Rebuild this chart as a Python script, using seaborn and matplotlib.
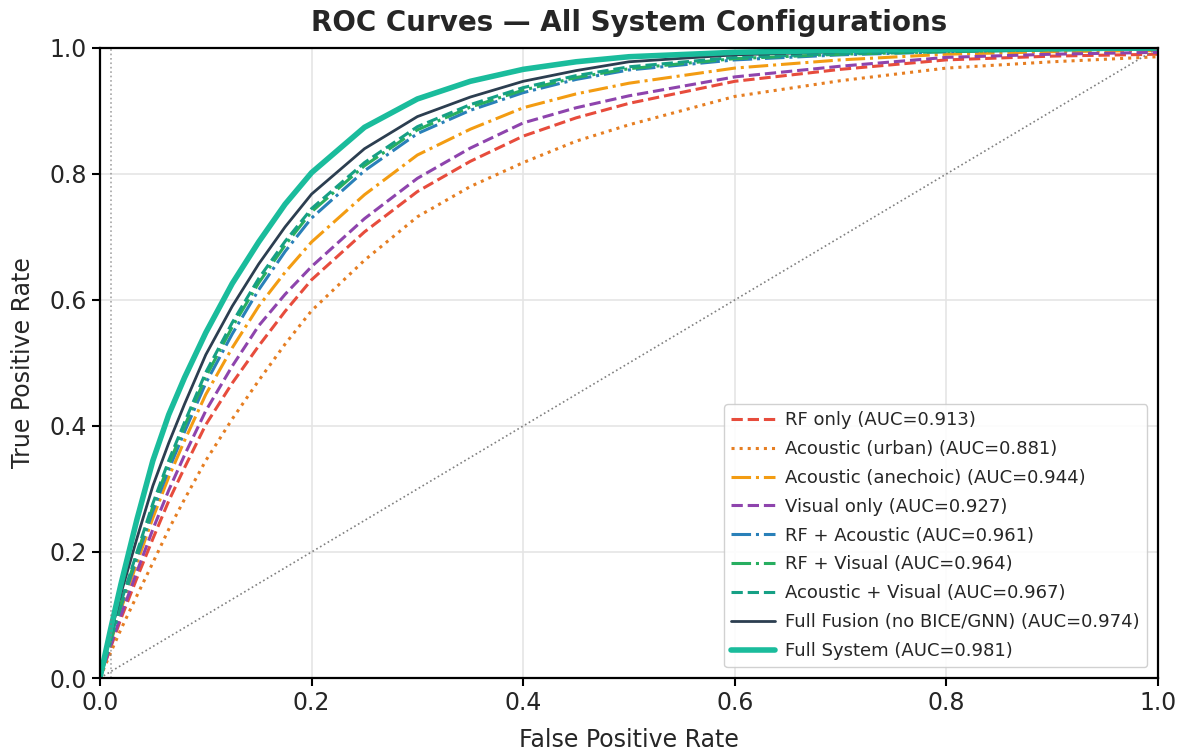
import numpy as np
import pandas as pd
import matplotlib
matplotlib.use('Agg')
import matplotlib.pyplot as plt
import seaborn as sns

# values
fpr = [0, 0.01, 0.02, 0.035, 0.05, 0.065, 0.08, 0.1, 0.125, 0.15, 0.175, 0.2,
       0.25, 0.3, 0.35, 0.4, 0.45, 0.5, 0.6, 0.7, 0.8, 0.9, 1.0]

tpr_rf = [0, 0.048, 0.095, 0.159, 0.221, 0.281, 0.334, 0.402, 0.468, 0.527, 0.582, 0.632,
          0.708, 0.772, 0.820, 0.860, 0.889, 0.912, 0.947, 0.966, 0.981, 0.987, 0.990]
tpr_urban = [0, 0.040, 0.078, 0.131, 0.183, 0.236, 0.284, 0.345, 0.411, 0.472, 0.530, 0.583,
             0.663, 0.732, 0.780, 0.818, 0.852, 0.878, 0.923, 0.948, 0.968, 0.978, 0.986]
tpr_anechoic = [0, 0.056, 0.110, 0.183, 0.254, 0.319, 0.377, 0.450, 0.524, 0.590, 0.644, 0.692,
                0.767, 0.830, 0.871, 0.905, 0.927, 0.944, 0.968, 0.981, 0.990, 0.994, 0.996]
tpr_visual = [0, 0.051, 0.100, 0.169, 0.236, 0.298, 0.354, 0.424, 0.495, 0.559, 0.609, 0.653,
              0.729, 0.793, 0.841, 0.881, 0.905, 0.924, 0.954, 0.971, 0.985, 0.990, 0.993]
tpr_rf_ac = [0, 0.058, 0.114, 0.191, 0.265, 0.331, 0.391, 0.468, 0.546, 0.616, 0.677, 0.730,
             0.805, 0.864, 0.901, 0.929, 0.950, 0.965, 0.981, 0.989, 0.994, 0.997, 0.998]
tpr_rf_vis = [0, 0.060, 0.118, 0.196, 0.272, 0.339, 0.400, 0.478, 0.557, 0.627, 0.687, 0.740,
              0.813, 0.870, 0.906, 0.933, 0.953, 0.967, 0.983, 0.990, 0.994, 0.997, 0.998]
tpr_ac_vis = [0, 0.062, 0.121, 0.200, 0.277, 0.345, 0.406, 0.485, 0.564, 0.634, 0.693, 0.745,
              0.818, 0.875, 0.910, 0.937, 0.956, 0.970, 0.985, 0.991, 0.995, 0.997, 0.998]
tpr_fusion = [0, 0.069, 0.135, 0.222, 0.305, 0.373, 0.435, 0.513, 0.590, 0.657, 0.716, 0.768,
              0.840, 0.891, 0.922, 0.947, 0.964, 0.978, 0.989, 0.994, 0.997, 0.998, 0.999]
tpr_full = [0, 0.077, 0.150, 0.252, 0.345, 0.418, 0.477, 0.548, 0.626, 0.692, 0.752, 0.802,
            0.874, 0.919, 0.947, 0.966, 0.978, 0.986, 0.993, 0.996, 0.998, 0.999, 1.0]

names = ['RF only', 'Acoustic (urban)', 'Acoustic (anechoic)', 'Visual only',
         'RF + Acoustic', 'RF + Visual', 'Acoustic + Visual',
         'Full Fusion (no BICE/GNN)', 'Full System']
aucs = [0.913, 0.881, 0.944, 0.927, 0.961, 0.964, 0.967, 0.974, 0.981]
curves = [tpr_rf, tpr_urban, tpr_anechoic, tpr_visual, tpr_rf_ac,
          tpr_rf_vis, tpr_ac_vis, tpr_fusion, tpr_full]

colors = ['#e74c3c', '#e67e22', '#f39c12', '#8e44ad', '#2980b9',
          '#27ae60', '#16a085', '#2c3e50', '#1abc9c']
styles = ['--', ':', '-.', '--', '-.', '-.', '--', '-', '-']
widths = [2.2, 2.2, 2.2, 2.2, 2.2, 2.2, 2.2, 2.0, 4.0]

sns.set_theme(style='ticks')
plt.rcParams['font.family'] = ['DejaVu Sans']

fig = plt.figure(figsize=(11.83, 7.51), dpi=100)
ax = fig.add_axes([0.0845, 0.0972, 0.8944, 0.8390])

for name, auc, tpr, c, ls, lw in zip(names, aucs, curves, colors, styles, widths):
    df = pd.DataFrame({'fpr': fpr, 'tpr': tpr})
    sns.lineplot(data=df, x='fpr', y='tpr', ax=ax, color=c, linestyle=ls,
                 linewidth=lw, label=f'{name} (AUC={auc:.3f})')

ax.plot([0, 1], [0, 1], color='gray', linestyle=':', linewidth=1.2)
ax.axvline(0.01, color='gray', linestyle=':', linewidth=1.2, alpha=0.7)

ax.set_xlim(0, 1)
ax.set_ylim(0, 1)
ax.grid(True, color='#e5e5e5', linewidth=1.2)
ax.set_xlabel('False Positive Rate', fontsize=17, labelpad=9)
ax.set_ylabel('True Positive Rate', fontsize=17, labelpad=10)
ax.set_title('ROC Curves — All System Configurations', fontsize=20,
             fontweight='bold', pad=12)
ax.tick_params(labelsize=17, width=1.5, length=6, color='black')
for s in ax.spines.values():
    s.set_color('black')
    s.set_linewidth(1.6)

ax.legend(loc='lower right', fontsize=13, framealpha=0.9, borderaxespad=0.6,
          labelspacing=0.6, handlelength=2.4, handletextpad=0.6)

fig.savefig('out.png', dpi=100)
